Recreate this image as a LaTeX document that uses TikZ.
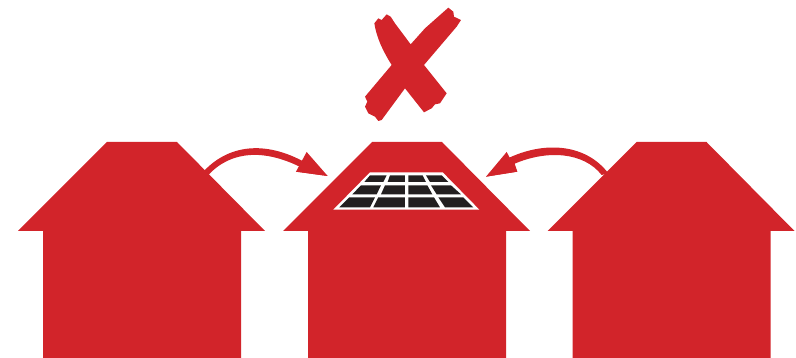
\documentclass[tikz,border=0pt]{standalone}
\definecolor{hred}{HTML}{D2242A}
\definecolor{cellk}{HTML}{231F20}
\tikzset{redfill/.style={fill=hred,draw=none},cellfill/.style={fill=cellk,draw=none},
 zoomA/.style={shift={(320pt,-140pt)},x=0.3333pt,y=-0.3333pt},
 zoomB/.style={shift={(350pt,-5pt)},x=0.3333pt,y=-0.3333pt},
 zoomC/.style={shift={(195pt,-140pt)},x=0.3333pt,y=-0.3333pt},
 zoomD/.style={shift={(480pt,-140pt)},x=0.3333pt,y=-0.3333pt}}
\newcommand{\houseshape}[1]{\fill[redfill,shift={(#1pt,0pt)}] (107,142) -- (177,142) -- (265,231) -- (241,231) -- (241,358) -- (43,358) -- (43,231) -- (18,231) -- cycle;}
\begin{document}
\begin{tikzpicture}[x=1pt,y=-1pt]
\useasboundingbox (0,0) rectangle (796,358);
\houseshape{0}
\houseshape{265}
\houseshape{529.5}
% solar panel
\begin{scope}[zoomA]
\fill[white] (150,97) -- (368,97) -- (478,209) -- (40,209) -- cycle;
\fill[cellfill] (150,106) -- (200,106) -- (190,126) -- (133,126) -- cycle;
\fill[cellfill] (210,106) -- (255,106) -- (255,126) -- (203,126) -- cycle;
\fill[cellfill] (265,106) -- (308,106) -- (318,126) -- (265,126) -- cycle;
\fill[cellfill] (318,106) -- (365,106) -- (385,126) -- (330,126) -- cycle;
\fill[cellfill] (123,136) -- (183,136) -- (170,163) -- (97,163) -- cycle;
\fill[cellfill] (195,136) -- (255,136) -- (255,163) -- (183,163) -- cycle;
\fill[cellfill] (265,136) -- (322,136) -- (337,163) -- (265,163) -- cycle;
\fill[cellfill] (333,136) -- (393,136) -- (423,163) -- (350,163) -- cycle;
\fill[cellfill] (88,172) -- (165,172) -- (150,202) -- (58,202) -- cycle;
\fill[cellfill] (175,172) -- (255,172) -- (255,202) -- (160,202) -- cycle;
\fill[cellfill] (265,172) -- (342,172) -- (360,202) -- (265,202) -- cycle;
\fill[cellfill] (355,172) -- (430,172) -- (460,202) -- (375,202) -- cycle;
\end{scope}
% cross
\begin{scope}[zoomB]
\fill[redfill] (73,55) -- (85,40) -- (95,45) -- (110,28) -- (122,35) -- (135,55) -- (182,118)
 -- (225,70) -- (295,8) -- (310,20) -- (312,35) -- (333,45) -- (320,65) -- (222,180)
 -- (290,265) -- (270,295) -- (255,298) -- (245,310) -- (222,322) -- (165,250)
 -- (95,345) -- (85,348) -- (75,335) -- (55,325) -- (45,305) -- (52,290) -- (45,275) -- (125,180)
 .. controls (100,140) and (80,100) .. (73,55) -- cycle;
\end{scope}
% left arrow
\begin{scope}[zoomC]
\fill[redfill] (25,95) .. controls (100,14) and (210,0) .. (332,68) -- (398,108) -- (303,95) -- (318,82)
 .. controls (210,28) and (110,30) .. (40,105) -- cycle;
\fill[redfill] (398,108) -- (335,36) -- (303,95) -- cycle;
\end{scope}
% right arrow
\begin{scope}[zoomD]
\fill[redfill] (385,100) .. controls (320,14) and (200,2) .. (90,52) -- (18,110) -- (112,95) -- (104,71)
 .. controls (200,30) and (310,35) .. (365,105) -- cycle;
\fill[redfill] (18,110) -- (80,36) -- (112,95) -- cycle;
\end{scope}
\end{tikzpicture}
\end{document}
